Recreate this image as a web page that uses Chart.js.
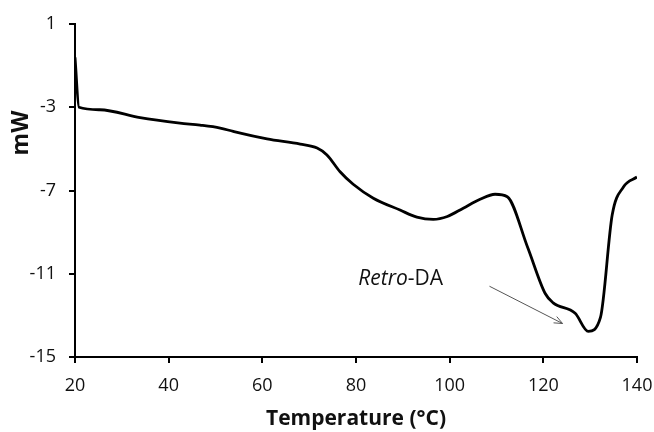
<!DOCTYPE html>
<html>
<head>
<meta charset="utf-8">
<script src="https://cdn.jsdelivr.net/npm/chart.js@4"></script>
<style>
  html, body { margin: 0; padding: 0; background: #fff; }
  #wrap { width: 654px; height: 432px; }
</style>
</head>
<body>
<div id="wrap"><canvas id="dscChart"></canvas></div>
<script>
// DSC trace
var temps = [20, 20.85, 25.3, 33.9, 42.4, 46.7, 51, 53.8, 61, 68.1, 71.7, 73.8, 76.6, 79.4, 83.7, 89.4, 93, 96.5, 99.5, 102.9, 106.5, 109.7, 112.3, 116.6, 120.4, 122.1, 126.8, 129.6, 132.2, 134.7, 137.1, 140];
var heatFlow = [-0.6, -3.0, -3.12, -3.5, -3.76, -3.86, -4.0, -4.16, -4.52, -4.77, -4.96, -5.29, -6.1, -6.7, -7.37, -7.94, -8.28, -8.39, -8.25, -7.85, -7.42, -7.18, -7.3, -9.7, -11.95, -12.4, -12.9, -13.77, -13.1, -8.18, -6.83, -6.35];
var xTicks = [20, 40, 60, 80, 100, 120, 140];
var yTicks = [1, -3, -7, -11, -15];

var fontFam = "'Open Sans', 'Liberation Sans', sans-serif";

// label + arrow for the retro Diels-Alder peak, and the y title
var annotate = {
    id: "annotate",
    afterDatasetsDraw: function (chart) {
        var ctx = chart.ctx;
        var xs = chart.scales.x, ys = chart.scales.y;
        ctx.save();
        ctx.fillStyle = "#111";
        ctx.textBaseline = "middle";
        var tx = xs.getPixelForValue(80.5), ty = ys.getPixelForValue(-11.27);
        ctx.font = "italic 21px " + fontFam;
        ctx.fillText("Retro", tx, ty);
        var w = ctx.measureText("Retro").width;
        ctx.font = "21px " + fontFam;
        ctx.fillText("-DA", tx + w, ty);

        // arrow
        var x1 = xs.getPixelForValue(108.5), y1 = ys.getPixelForValue(-11.6);
        var x2 = xs.getPixelForValue(124.1), y2 = ys.getPixelForValue(-13.39);
        ctx.strokeStyle = "#555";
        ctx.lineWidth = 1;
        ctx.beginPath();
        ctx.moveTo(x1, y1);
        ctx.lineTo(x2, y2);
        var a = Math.atan2(y2 - y1, x2 - x1);
        ctx.moveTo(x2, y2);
        ctx.lineTo(x2 - 9 * Math.cos(a - 0.4), y2 - 9 * Math.sin(a - 0.4));
        ctx.moveTo(x2, y2);
        ctx.lineTo(x2 - 9 * Math.cos(a + 0.4), y2 - 9 * Math.sin(a + 0.4));
        ctx.stroke();

        // y axis title
        ctx.translate(21, 133);
        ctx.rotate(-Math.PI / 2);
        ctx.textAlign = "center";
        ctx.font = "bold 23px " + fontFam;
        ctx.fillText("mW", 0, 0);
        ctx.restore();
    }
};

new Chart(document.getElementById("dscChart"), {
    type: "line",
    data: {
        datasets: [{
            data: temps.map(function (t, i) { return { x: t, y: heatFlow[i] }; }),
            borderColor: "#000",
            borderWidth: 2.8,
            pointRadius: 0,
            cubicInterpolationMode: "monotone",
            fill: false
        }]
    },
    options: {
        responsive: true,
        maintainAspectRatio: false,
        animation: false,
        layout: { padding: { top: 24, right: 17, left: 0, bottom: 0 } },
        plugins: { legend: { display: false }, tooltip: { enabled: false } },
        scales: {
            x: {
                type: "linear",
                min: 20,
                max: 140,
                afterBuildTicks: function (s) { s.ticks = xTicks.map(function (v) { return { value: v }; }); },
                afterFit: function (s) { s.height = 75; s.paddingLeft = 0; s.paddingRight = 0; },
                border: { color: "#000", width: 2 },
                grid: { drawOnChartArea: false, color: "#000", lineWidth: 2, tickLength: 6 },
                ticks: { color: "#111", font: { family: fontFam, size: 18 }, padding: 12, maxRotation: 0 },
                title: { display: true, text: "Temperature (°C)", color: "#111", font: { family: fontFam, size: 21, weight: "bold" }, padding: { top: 0, bottom: 0 } }
            },
            y: {
                min: -15,
                max: 1,
                afterBuildTicks: function (s) { s.ticks = yTicks.map(function (v) { return { value: v }; }); },
                afterFit: function (s) { s.width = 75; s.paddingTop = 0; s.paddingBottom = 0; },
                border: { color: "#000", width: 2 },
                grid: { drawOnChartArea: false, color: "#000", lineWidth: 2, tickLength: 6 },
                ticks: { color: "#111", font: { family: fontFam, size: 18 }, padding: 13 }
            }
        }
    },
    plugins: [annotate]
});
</script>
</body>
</html>
